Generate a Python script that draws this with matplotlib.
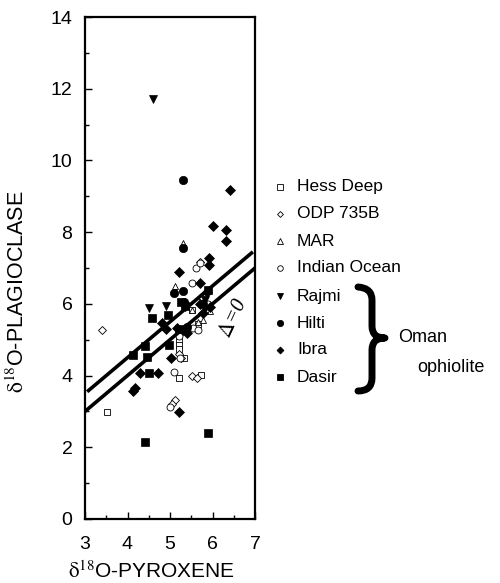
import numpy as np
import matplotlib
matplotlib.use('Agg')
import matplotlib.pyplot as plt
from matplotlib.lines import Line2D
from matplotlib.path import Path
from matplotlib.patches import PathPatch

plt.rcParams['font.family'] = ['Liberation Sans', 'DejaVu Sans']
plt.rcParams['mathtext.fontset'] = 'stix'

# d18O pyroxene (x) vs d18O plagioclase (y)
hess_x = [3.51, 5.22, 5.22, 5.22, 5.34, 5.22, 5.72, 5.51, 5.66]
hess_y = [2.97, 4.99, 4.85, 4.74, 4.48, 3.94, 4.02, 5.83, 5.45]

odp_x = [3.39, 5.71, 5.74, 5.27, 5.51, 5.63, 5.12, 5.04, 5.20, 5.35]
odp_y = [5.27, 7.18, 6.20, 4.48, 4.00, 3.92, 3.32, 3.20, 4.60, 5.90]

mar_x = [5.30, 5.12, 5.67, 5.51, 5.78, 5.95]
mar_y = [7.69, 6.50, 5.50, 5.83, 5.55, 5.80]

indian_x = [5.61, 5.71, 5.51, 5.09, 5.00, 5.55, 5.67, 5.24, 5.22, 5.90]
indian_y = [7.00, 7.15, 6.57, 4.09, 3.12, 5.32, 5.27, 4.48, 5.10, 6.00]

rajmi_x = [4.60, 4.51, 4.90, 5.82]
rajmi_y = [11.70, 5.89, 5.95, 6.10]

hilti_x = [5.30, 5.31, 5.09, 5.30, 5.33, 5.78, 5.40]
hilti_y = [9.45, 7.55, 6.31, 6.37, 6.06, 6.01, 5.35]

ibra_x = [6.41, 6.02, 6.32, 6.32, 5.92, 5.92, 5.20, 5.71, 5.71, 4.80, 4.91, 5.16,
          5.31, 5.39, 5.78, 5.02, 4.18, 4.14, 4.29, 4.72, 5.22, 5.86, 5.95]
ibra_y = [9.17, 8.17, 8.06, 7.76, 7.29, 7.08, 6.88, 6.57, 6.00, 5.47, 5.29, 5.32,
          5.27, 5.18, 5.74, 4.48, 3.64, 3.58, 4.08, 4.08, 2.99, 6.34, 5.90]

dasir_x = [4.40, 5.90, 4.12, 4.40, 4.47, 4.51, 4.98, 4.57, 4.96, 5.27, 5.90, 5.35, 5.20]
dasir_y = [2.16, 2.39, 4.57, 4.82, 4.51, 4.06, 4.85, 5.60, 5.69, 6.06, 6.39, 5.95, 5.30]

groups = [
    ('Hess Deep', hess_x, hess_y, 's', False),
    ('ODP 735B', odp_x, odp_y, 'D', False),
    ('MAR', mar_x, mar_y, '^', False),
    ('Indian Ocean', indian_x, indian_y, 'o', False),
    ('Rajmi', rajmi_x, rajmi_y, 'v', True),
    ('Hilti', hilti_x, hilti_y, 'o', True),
    ('Ibra', ibra_x, ibra_y, 'D', True),
    ('Dasir', dasir_x, dasir_y, 's', True),
]

fig = plt.figure(figsize=(5.0, 5.83), dpi=100)
ax = fig.add_axes([0.17, 0.1098, 0.34, 0.861])

for name, xs, ys, m, filled in groups:
    ms = 6.0 if filled else 5.0
    if m == 'D':
        ms -= 1.2
    if filled:
        ax.plot(xs, ys, linestyle='none', marker=m, ms=ms, mfc='black', mec='black', mew=0.5)
    else:
        ax.plot(xs, ys, linestyle='none', marker=m, ms=ms, mfc='white', mec='black', mew=0.6)

# delta = 0 line and the line offset by 0.5
xl = np.array([3.0, 7.0])
ax.plot(xl, xl, color='black', lw=2.6, solid_capstyle='butt')
xu = np.array([3.05, 6.95])
ax.plot(xu, xu + 0.5, color='black', lw=2.6, solid_capstyle='butt')
ax.text(6.5, 5.6, r'$\Delta$=0', fontsize=15, rotation=65, ha='center', va='center',
        family='Liberation Serif', style='italic')

ax.set_xlim(3, 7)
ax.set_ylim(0, 14)
ax.set_xticks([3, 4, 5, 6, 7])
ax.set_xticks(np.arange(3, 7, 0.5), minor=True)
ax.set_yticks(np.arange(0, 15, 2))
ax.set_yticks(np.arange(0, 14, 1), minor=True)
ax.tick_params(which='both', direction='in', labelsize=14, width=1)
ax.tick_params(which='major', length=5)
ax.tick_params(which='minor', length=3)
ax.tick_params(axis='x', which='major', pad=12)
ax.tick_params(axis='y', which='major', pad=9)
for s in ax.spines.values():
    s.set_linewidth(1.6)

ax.set_xlabel(r'$\mathrm{\delta}^{18}$O-PYROXENE', fontsize=15)
ax.set_ylabel(r'$\mathrm{\delta}^{18}$O-PLAGIOCLASE', fontsize=15.5)
ax.xaxis.set_label_coords(0.39, -0.082)
ax.yaxis.set_label_coords(-0.33, 0.452)

# legend drawn by hand
leg_y = [187, 214, 241, 268, 296, 323, 350, 377]
for (name, xs, ys, m, filled), py in zip(groups, leg_y):
    fy = 1 - py / 583
    ms = 4.5 if filled else 4.0
    if m == 'D':
        ms -= 1
    fig.add_artist(Line2D([280 / 500], [fy], transform=fig.transFigure, marker=m,
                          ms=ms, mfc='black' if filled else 'white', mec='black',
                          mew=0.6, linestyle='none'))
    fig.text(297 / 500, fy, name, fontsize=12.5, va='center', ha='left')

# curly brace for the Oman ophiolite group
def fp(px, py):
    return (px / 500, 1 - py / 583)

verts = [fp(358, 287), fp(372, 288), fp(372, 300),
         fp(372, 326),
         fp(372, 338), fp(385, 338),
         fp(372, 338), fp(372, 350),
         fp(372, 378),
         fp(372, 391), fp(358, 391)]
codes = [Path.MOVETO, Path.CURVE3, Path.CURVE3,
         Path.LINETO,
         Path.CURVE3, Path.CURVE3,
         Path.CURVE3, Path.CURVE3,
         Path.LINETO,
         Path.CURVE3, Path.CURVE3]
fig.add_artist(PathPatch(Path(verts, codes), transform=fig.transFigure, fill=False,
                         lw=5, edgecolor='black', capstyle='round', joinstyle='round'))
fig.text(398 / 500, 1 - 338 / 583, 'Oman', fontsize=13, va='center', ha='left')
fig.text(417 / 500, 1 - 367 / 583, 'ophiolite', fontsize=13, va='center', ha='left')

fig.savefig('out.png', dpi=100)
